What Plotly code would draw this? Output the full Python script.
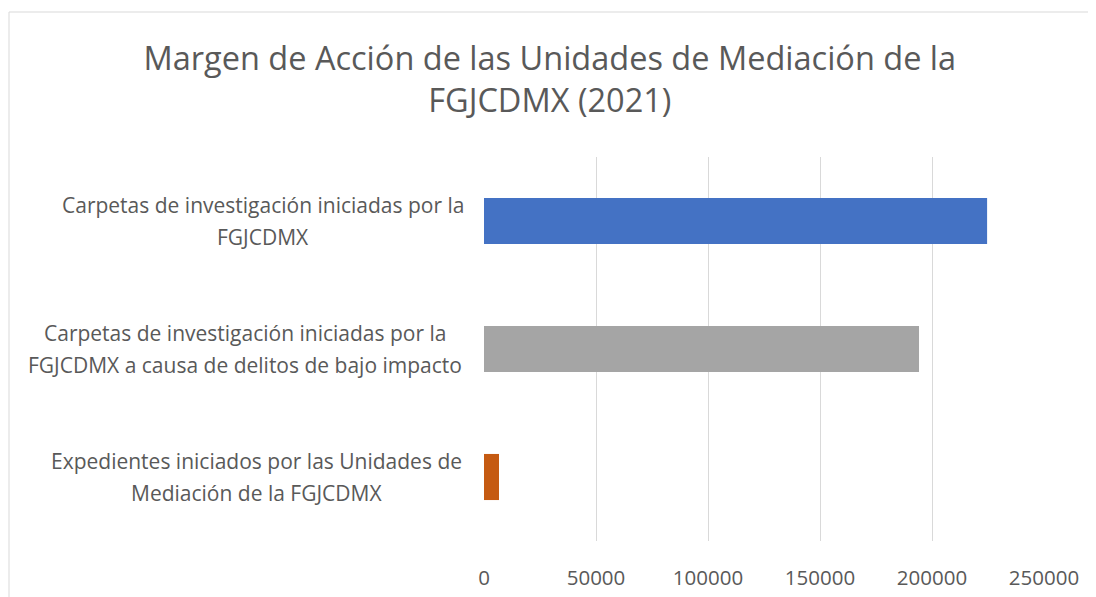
import plotly.graph_objects as go

categories = [
    "Carpetas de investigación iniciadas por la FGJCDMX",
    "Carpetas de investigación iniciadas por la FGJCDMX a causa de delitos de bajo impacto",
    "Expedientes iniciados por las Unidades de Mediación de la FGJCDMX",
]
label_lines = [
    ["Carpetas de investigación iniciadas por la", "FGJCDMX"],
    ["Carpetas de investigación iniciadas por la", "FGJCDMX a causa de delitos de bajo impacto"],
    ["Expedientes iniciados por las Unidades de", "Mediación de la FGJCDMX"],
]
values = [224600, 194200, 6700]
colors = ["#4472C4", "#A5A5A5", "#C55A11"]
tick_vals = [0, 50000, 100000, 150000, 200000, 250000]
tick_text = ["0", "50000", "100000", "150000", "200000", "250000"]
title_text = "Margen de Acción de las Unidades de Mediación de la<br>FGJCDMX (2021)"

FONT = "Open Sans"
GREY = "#595959"

fig = go.Figure()
fig.add_trace(go.Bar(
    x=values, y=categories, orientation="h",
    marker=dict(color=colors, line=dict(width=0)),
    width=0.36, showlegend=False, hoverinfo="x+y",
))

# page body has an 8px margin, figure sized to fill the rest of the window
W, H = 1088, 589
L, R, T, B = 476, 52, 149, 56
pw = W - L - R
ph = H - T - B

# horizontal centre (figure px) of each category label block
label_centres = [255, 237, 248]

annotations = []
for c, lines, cx in zip(categories, label_lines, label_centres):
    for i, line in enumerate(lines):
        annotations.append(dict(
            text=line, x=(cx - L) / pw, xref="paper", y=c, yref="y",
            xanchor="center", yanchor="middle", align="center", showarrow=False,
            yshift=16 - 32 * i,
            font=dict(family=FONT, size=21, color=GREY),
        ))

fig.update_layout(
    width=W, height=H,
    margin=dict(l=L, r=R, t=T, b=B),
    paper_bgcolor="white", plot_bgcolor="white",
    title=dict(text=title_text, x=0.498, xref="container", xanchor="center",
               y=1 - 62 / H, yanchor="top",
               font=dict(family=FONT, size=32.5, color=GREY)),
    xaxis=dict(range=[0, 250000], tickvals=tick_vals, ticktext=tick_text,
               showgrid=True, gridcolor="#D9D9D9", gridwidth=1,
               zeroline=False, showline=False, ticks="",
               ticklabelstandoff=22, automargin=False,
               tickfont=dict(family=FONT, size=20.5, color=GREY)),
    yaxis=dict(categoryorder="array", categoryarray=categories, autorange="reversed",
               showticklabels=False, showgrid=False, zeroline=False, ticks="",
               automargin=False),
    annotations=annotations,
    shapes=[dict(type="rect", xref="paper", yref="paper",
                 x0=(1 - L) / pw, x1=(W + 20 - L) / pw,
                 y0=-(H + 20 - (T + ph)) / ph, y1=(T + ph - 4) / ph,
                 line=dict(color="#D9D9D9", width=1), fillcolor="rgba(0,0,0,0)",
                 layer="below")],
)

fig.write_html("out.html")
